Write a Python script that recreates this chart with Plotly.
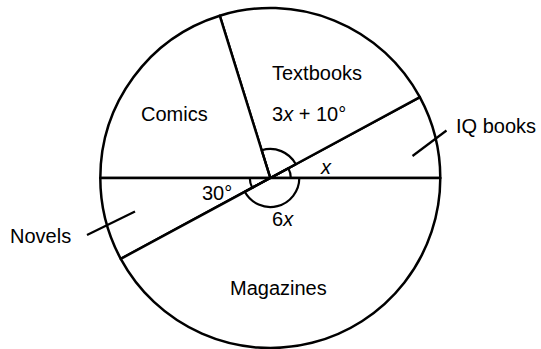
import plotly.graph_objects as go

W, H = 541, 349

# sector angles as drawn (degrees), counter-clockwise from 3 o'clock
sectors = ['IQ books', 'Textbooks', 'Comics', 'Novels', 'Magazines']
angles = [28.4, 78.9, 72.7, 28.4, 151.6]

# which sectors get an angle arc near the centre
big_arc = [False, True, False, False, True]
small_arc = [True, False, False, True, False]

labels = ['Textbooks', '3<i>x</i> + 10°', 'Comics', 'Magazines', 'Novels',
          'IQ books', '30°', '<i>x</i>', '6<i>x</i>']
label_pos = [(316.5, 72.5), (309, 114), (174, 114), (278, 288), (40, 236),
             (496, 126), (217, 192.5), (326, 167), (283, 219)]

cx, cy, R = 270.3, 178, 170


def px(x):
    return x / W


def py(y):
    return 1 - y / H


def dom(r):
    return dict(x=[px(cx - r), px(cx + r)], y=[py(cy + r), py(cy - r)])


# plotly's counterclockwise pie ends its first slice at `rotation`
rot = 90 - angles[0]

fig = go.Figure()

fig.add_trace(go.Pie(
    labels=sectors, values=angles, sort=False, direction='counterclockwise',
    rotation=rot, textinfo='none', hoverinfo='label', showlegend=False,
    marker=dict(colors=['white'] * 5, line=dict(color='black', width=2.5)),
    domain=dom(R)))

for r, flags in [(29, big_arc), (20.5, small_arc)]:
    fig.add_trace(go.Pie(
        labels=sectors, values=angles, sort=False, direction='counterclockwise',
        rotation=rot, textinfo='none', hoverinfo='skip', showlegend=False,
        marker=dict(colors=['rgba(0,0,0,0)'] * 5,
                    line=dict(color=['black' if f else 'rgba(0,0,0,0)' for f in flags],
                              width=2.2)),
        domain=dom(r)))

# leader lines
for x0, y0, x1, y1 in [(87, 235, 135, 211.5), (412.5, 156, 446.5, 130.5)]:
    fig.add_shape(type='line', xref='paper', yref='paper',
                  x0=px(x0), y0=py(y0), x1=px(x1), y1=py(y1),
                  line=dict(color='black', width=2.2))

for t, (x, y) in zip(labels, label_pos):
    fig.add_annotation(text=t, x=px(x), y=py(y), xref='paper', yref='paper',
                       showarrow=False, xanchor='center', yanchor='middle',
                       font=dict(size=20, color='black'))

fig.update_layout(
    width=W, height=H, margin=dict(l=0, r=0, t=0, b=0),
    paper_bgcolor='white', plot_bgcolor='white',
    font=dict(family='Liberation Sans, Arial, sans-serif'),
)

fig.write_html("out.html", config={'displayModeBar': False},
               post_script="document.body.style.margin='0';")
